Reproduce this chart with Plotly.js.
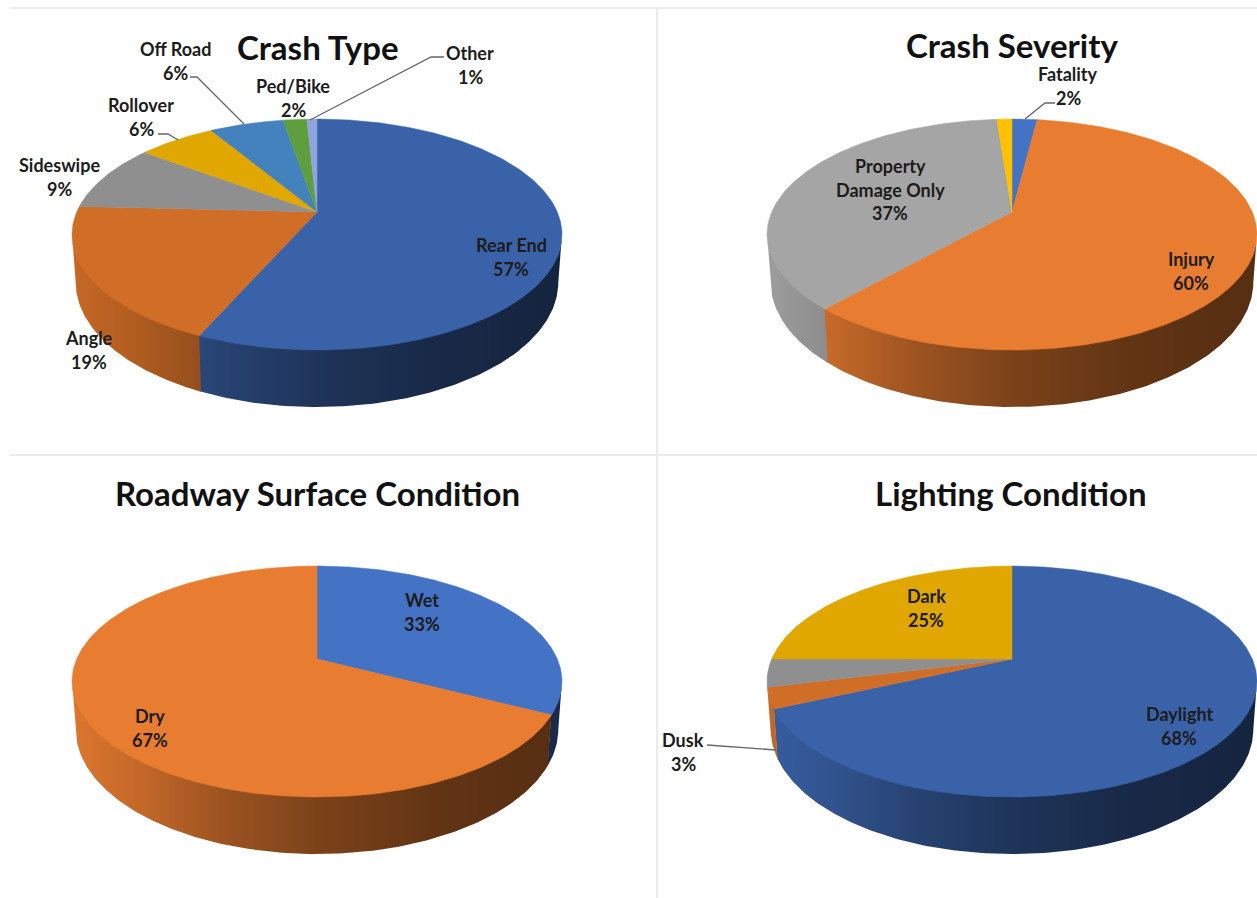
<!DOCTYPE html>
<html>
<head>
<meta charset="utf-8">
<script src="https://cdn.plot.ly/plotly-3.0.1.min.js"></script>
<style>html,body{margin:0;padding:0;background:#fff;overflow:hidden}#chart{width:1257px;height:898px}</style>
</head>
<body>
<div id="chart"></div>
<script>
// ---------- data ----------
const crashTypeCategories = ['Rear End','Angle','Sideswipe','Rollover','Off Road','Ped/Bike','Other'];
const crashTypeValues     = [56.6,19.2,9.4,6.2,5.9,1.9,0.8];
const crashTypeColors     = ['#3a62a8','#d06d27','#8f8f8f','#dfa700','#4482bd','#5f9e3f','#8fa3dc'];

const severityCategories  = ['Fatality','Injury','Property|Damage Only','Unlabelled'];
const severityValues      = [2,59.6,37.2,1.2];
const severityColors      = ['#4472c4','#e87c30','#a5a5a5','#ffc000'];

const surfaceCategories   = ['Wet','Dry'];
const surfaceValues       = [32.6,67.4];
const surfaceColors       = ['#4472c4','#e87c30'];

const lightingCategories  = ['Daylight','Dusk','Dawn','Dark'];
const lightingValues      = [68.2,2.9,3.9,25];
const lightingColors      = ['#3a62a8','#d06d27','#8f8f8f','#dfa700'];

// ---------- layout of the page (pixels) ----------
const W = 1257, H = 898;
const HALF_X = 657, HALF_Y = 455;
const panels = [
  {title:'Crash Type', titleX:318, titleY:47, cx:317, cy:212, cats:crashTypeCategories, vals:crashTypeValues, cols:crashTypeColors, box:[0,HALF_X,0,HALF_Y],
   labels:[[511,245],[89,338],[59,165],[141,105],[175,49],[293,86],[470,53]],
   leaders:[[[190,77],[197,77],[244,124]],[[158,134],[168,134],[178,140]],[[444,57],[431,57],[310,120]]]},
  {title:'Crash Severity', titleX:1012, titleY:45, cx:1012, cy:212, cats:severityCategories, vals:severityValues, cols:severityColors, box:[HALF_X,W,0,HALF_Y],
   labels:[[1068,74],[1191,259],[890,166],null],
   leaders:[[[1055,103],[1045,103],[1025,119]]]},
  {title:'Roadway Surface Condition', titleX:317, titleY:493, cx:317, cy:659, cats:surfaceCategories, vals:surfaceValues, cols:surfaceColors, box:[0,HALF_X,HALF_Y,H],
   labels:[[422,600],[150,716]], leaders:[]},
  {title:'Lighting Condition', titleX:1011, titleY:493, cx:1012, cy:659, cats:lightingCategories, vals:lightingValues, cols:lightingColors, box:[HALF_X,W,HALF_Y,H],
   labels:[[1179,714],[683,740],null,[926,596]],
   leaders:[[[707,745],[722,746],[776,750]]]}
];
const LINE = 23.5;
const FONT = 'Lato, "Open Sans", sans-serif';
const TEXT = '#1c1c1c';

// perspective of the tilted disc
const K = 0.195, RX = 240.3, RY = 111.1, DEPTH = 45.9, BOTTOM_SHRINK = 0.985, HALF_WIDTH = 245;
const rim = (p, deg, low) => {
  const t = deg*Math.PI/180, u = Math.sin(t), v = Math.cos(t), w = 1 + K*v;
  const s = low ? BOTTOM_SHRINK : 1;
  return [p.cx + s*RX*u/w, p.cy - RY*v/w + (low ? DEPTH/w : -1)];
};
const WALL_FROM = Math.acos(-K)*180/Math.PI, WALL_TO = 360 - WALL_FROM;
const SHADE = [[0,.95],[.13,.85],[.3,.68],[.5,.53],[.75,.42],[1,.37]];
const shade = (hex, f) => {
  const n = parseInt(hex.slice(1),16);
  return `rgb(${Math.round((n>>16&255)*f)},${Math.round((n>>8&255)*f)},${Math.round((n&255)*f)})`;
};
const arc = (a, b) => {
  const out = [];
  const n = Math.max(2, Math.ceil((b-a)/0.75));
  for (let i=0;i<=n;i++) out.push(a+(b-a)*i/n);
  return out;
};

const traces = [], annotations = [], axes = {};
panels.forEach((p, idx) => {
  const sfx = idx ? String(idx+1) : '';
  const xa = 'x'+sfx, ya = 'y'+sfx;
  axes['xaxis'+sfx] = {domain:[p.box[0]/W,p.box[1]/W], range:[p.box[0],p.box[1]], visible:false, fixedrange:true, anchor:ya};
  axes['yaxis'+sfx] = {domain:[1-p.box[3]/H,1-p.box[2]/H], range:[p.box[3],p.box[2]], visible:false, fixedrange:true, anchor:xa};
  const total = p.vals.reduce((a,b)=>a+b,0);
  let acc = 0;
  const tops = [];
  p.vals.forEach((val,i) => {
    const a = acc/total*360, b = (acc+val)/total*360;
    acc += val;
    const name = p.cats[i].replace('|',' ');
    const wa = Math.max(a,WALL_FROM), wb = Math.min(b+0.3,WALL_TO);
    if (wb > wa) {
      const up = arc(wa,wb).map(d=>rim(p,d,false));
      const dn = arc(wa,wb).reverse().map(d=>rim(p,d,true));
      const poly = up.concat(dn); poly.push(up[0]);
      traces.push({type:'scatter',mode:'lines',xaxis:xa,yaxis:ya,name:name,hoverinfo:'skip',
        x:poly.map(q=>q[0]),y:poly.map(q=>q[1]),line:{width:0},fill:'toself',
        fillgradient:{type:'horizontal',start:p.cx-HALF_WIDTH,stop:p.cx+HALF_WIDTH,
          colorscale:SHADE.map(s=>[s[0],shade(p.cols[i],s[1])])}});
    }
    const edge = arc(a,b).map(d=>{const q=rim(p,d,false);return [q[0],q[1]+1];});
    const poly = [[p.cx,p.cy]].concat(edge,[[p.cx,p.cy]]);
    tops.push({type:'scatter',mode:'lines',xaxis:xa,yaxis:ya,name:name,
      x:poly.map(q=>q[0]),y:poly.map(q=>q[1]),line:{width:0.5,color:p.cols[i]},fill:'toself',fillcolor:p.cols[i],
      text:name+' '+Math.round(val)+'%',hoverinfo:'text',hoveron:'fills'});
    const at = p.labels[i];
    if (at) {
      const lines = p.cats[i].split('|').concat(Math.round(val)+'%');
      lines.forEach((t,j)=>annotations.push({xref:xa,yref:ya,x:at[0],y:at[1]+j*LINE,text:t,showarrow:false,
        xanchor:'center',yanchor:'middle',font:{family:FONT,size:18,color:TEXT,weight:700}}));
    }
  });
  traces.push(...tops);
  p.leaders.forEach(l=>traces.push({type:'scatter',mode:'lines',xaxis:xa,yaxis:ya,hoverinfo:'skip',
    x:l.map(q=>q[0]),y:l.map(q=>q[1]),line:{color:'#666',width:1.3}}));
  annotations.push({xref:xa,yref:ya,x:p.titleX,y:p.titleY,text:p.title,showarrow:false,xanchor:'center',yanchor:'middle',
    font:{family:FONT,size:33,color:'#111',weight:700}});
});

const rule = (x0,y0,x1,y1)=>({type:'line',xref:'paper',yref:'paper',x0:x0/W,x1:x1/W,y0:1-y0/H,y1:1-y1/H,line:{color:'#ebebeb',width:2},layer:'below'});

Plotly.newPlot('chart',traces,Object.assign({
  width:W,height:H,margin:{l:0,r:0,t:0,b:0},paper_bgcolor:'#fff',plot_bgcolor:'#fff',showlegend:false,
  annotations:annotations,
  shapes:[rule(10,8,W,8),rule(10,455,W,455),rule(657,8,657,H)]
},axes),{displayModeBar:false});
</script>
</body>
</html>
